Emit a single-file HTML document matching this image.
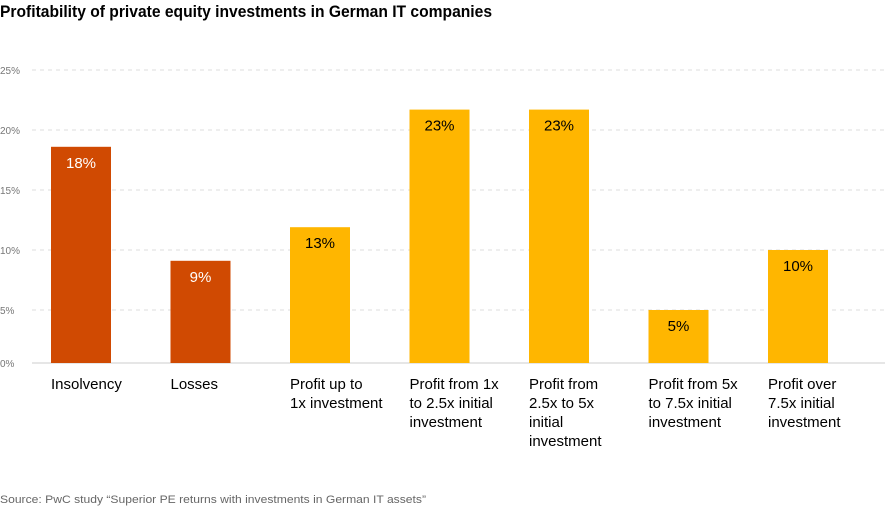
<!DOCTYPE html>
<html><head><meta charset="utf-8"><style>
body{margin:0;background:#fff;}
svg{display:block;font-family:"Liberation Sans",Arial,sans-serif;}
</style></head><body>
<svg id="chart" width="885" height="509" viewBox="0 0 885 509">
<text x="0" y="17" font-size="17" font-weight="bold" fill="#000" textLength="492" lengthAdjust="spacingAndGlyphs">Profitability of private equity investments in German IT companies</text>
<g id="grid"></g><g id="bars"></g><g id="xlabels"></g>
<text x="0" y="503" font-size="11" fill="#666" textLength="426" lengthAdjust="spacingAndGlyphs">Source: PwC study “Superior PE returns with investments in German IT assets”</text>
</svg>
<script>
const categories=[["Insolvency"],["Losses"],["Profit up to","1x investment"],["Profit from 1x","to 2.5x initial","investment"],["Profit from","2.5x to 5x","initial","investment"],["Profit from 5x","to 7.5x initial","investment"],["Profit over","7.5x initial","investment"]];
const values=[18.6,9.1,11.9,21.7,21.7,5.0,10.0];
const valueLabels=["18%","9%","13%","23%","23%","5%","10%"];
const colors=["#d04a02","#d04a02","#ffb600","#ffb600","#ffb600","#ffb600","#ffb600"];
const textColors=["#fff","#fff","#000","#000","#000","#000","#000"];
const ticks=[0,5,10,15,20,25];
const tickLabels=["0%","5%","10%","15%","20%","25%"];
const NS="http://www.w3.org/2000/svg";
const y=v=>370-12*v;
const x=i=>51+119.5*i;
const base=363;
function mk(t,a,p){const e=document.createElementNS(NS,t);for(const k in a)e.setAttribute(k,a[k]);p.appendChild(e);return e;}
const grid=document.getElementById('grid'),bars=document.getElementById('bars'),xl=document.getElementById('xlabels');
ticks.forEach((t,i)=>{
  const yy=t===0?base:y(t);
  const l=mk('line',{x1:32,x2:885,y1:yy,y2:yy,stroke:t===0?'#ccc':'#ddd','stroke-dasharray':t===0?'none':'4,4'},grid);
  
  
  const tx=mk('text',{x:0,y:yy+4,'font-size':10,fill:'#777'},grid);
  tx.textContent=tickLabels[i];
  
  
});
values.forEach((v,i)=>{
  const r=mk('rect',{x:x(i),y:y(v),width:60,height:base-y(v),fill:colors[i]},bars);
  
  
  const t=mk('text',{x:x(i)+30,y:y(v)+21,'font-size':15,fill:textColors[i],'text-anchor':'middle'},bars);
  t.textContent=valueLabels[i];
  
  
  categories[i].forEach((s,j)=>{
    const c=mk('text',{x:x(i),y:389+19*j,'font-size':15,fill:'#000'},xl);
    c.textContent=s;
    
    
  });
});
</script>
</body></html>
